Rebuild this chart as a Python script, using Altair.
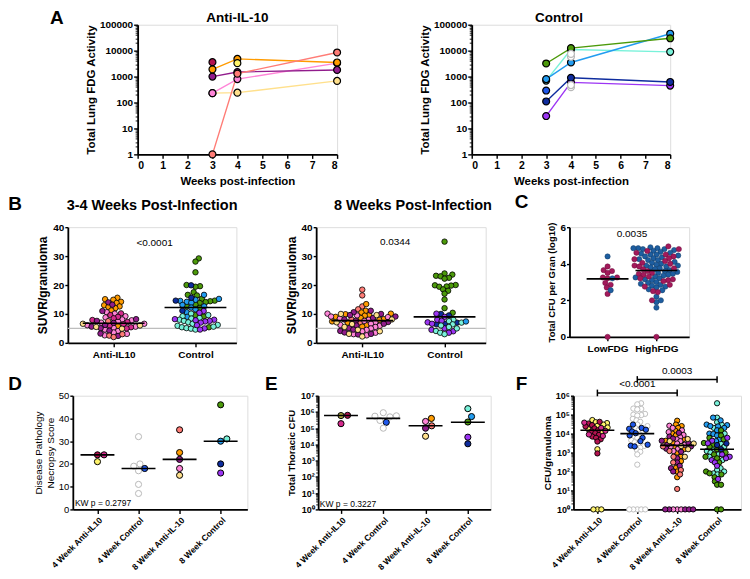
import altair as alt
import numpy as np
import pandas as pd

FONT = "Liberation Sans"

# ---------------- animal colours ----------------
FILL = {
    "orange": "#FF9B00", "lightyellow": "#FFE08C", "yellow": "#FFF36B", "olive": "#A9A23C",
    "pink": "#FF85D8", "magenta": "#D42A8C", "crimson": "#B3124F", "darkmagenta": "#911C8C",
    "salmon": "#FF7C76", "green": "#4C9A0A", "blue": "#229CF0", "aqua": "#79F2DA",
    "navy": "#0E2C9E", "violet": "#9C34F4", "royal": "#1E57EA", "gray": "#FFFFFF",
    "c_crimson": "#A3195B", "c_blue": "#1E5EA0",
}
STROKE = {"gray": "#B8B8B8", "c_crimson": "#6A0E3A", "c_blue": "#123B66"}

# ---------------- Panel A ----------------
A_WEEKS = [3, 4, 8]
A_ANTI_LINE_ANIMALS = ["lightyellow", "pink", "darkmagenta", "orange", "salmon"]
A_ANTI_LINE_VALUES = [[230, 240, 680], [230, 800, 3300], [1000, 1500, 1800],
                      [1900, 4800, 3500], [1, 1300, 8500]]
A_ANTI_DOT_ANIMALS = ["crimson", "yellow"]
A_ANTI_DOT_WEEKS = [3, 4]
A_ANTI_DOT_VALUES = [3600, 3300]

A_CTRL_LINE_ANIMALS = ["violet", "navy", "aqua", "blue", "green"]
A_CTRL_LINE_VALUES = [[30, 600, 450], [110, 900, 620], [700, 11000, 9000],
                      [800, 3500, 45000], [3200, 12500, 30000]]
A_CTRL_DOT_ANIMALS = ["royal", "gray", "gray", "gray", "gray"]
A_CTRL_DOT_WEEKS = [3, 4, 4, 4, 4]
A_CTRL_DOT_VALUES = [290, 5800, 7500, 390, 470]

# ---------------- Panel B ----------------
B_CATS = ["Anti-IL10", "Control"]
B34_ANTI = {
    "orange": [15.6, 15.1, 14.9, 14.2, 13.8, 13.0, 12.6, 12.4, 12.0, 11.2, 5.8],
    "pink": [10.6, 10.1, 9.2, 8.8, 8.1, 7.8, 7.4, 7.0, 6.6, 6.1, 5.6, 5.2, 4.6, 4.1, 3.6, 3.1, 2.6],
    "magenta": [10.2, 9.6, 9.0, 8.5, 7.9, 7.2, 6.4, 6.0, 5.4, 5.0],
    "darkmagenta": [14.0, 13.2, 11.0, 8.2, 7.6, 6.9, 6.2, 5.6, 5.1, 4.2, 3.2, 2.4],
    "lightyellow": [6.6, 6.0, 5.5, 4.9],
    "salmon": [7.5, 3.0, 2.5, 2.0],
}
B34_CTRL = {
    "green": [29.2, 28.1, 24.4, 20.0, 19.6, 19.4, 17.5, 16.6, 16.4, 15.2, 14.6, 14.4, 14.1,
              13.8, 13.2, 12.6, 12.1, 9.6, 9.1, 5.4],
    "blue": [16.6, 15.2, 14.9, 14.5, 14.2, 13.9, 13.1, 12.6, 12.2, 11.6, 10.6, 9.0],
    "navy": [19.9, 15.6, 14.6, 11.1],
    "aqua": [10.1, 9.6, 9.2, 8.6, 8.4, 8.0, 7.6, 7.1, 6.6, 6.2, 5.9, 5.6, 5.4, 5.1, 4.9, 4.6],
    "violet": [11.0, 10.4, 8.2, 8.0, 7.8, 7.6, 7.4, 7.0, 6.1, 5.0, 4.6],
}
B34_MEDIANS = [6.8, 12.2]
B8_ANTI = {
    "salmon": [18.4, 16.4, 12.6, 11.6, 8.1, 7.0],
    "orange": [13.4, 11.1, 10.5, 10.1, 9.9, 9.6, 9.4, 9.0, 8.6, 8.2, 7.9, 7.4, 7.0, 6.1, 5.6],
    "pink": [10.1, 9.5, 9.1, 8.9, 8.4, 8.0, 7.6, 7.1, 6.6, 6.2, 5.9, 5.5, 5.0, 4.5, 4.0, 3.5, 3.0, 2.6],
    "darkmagenta": [11.1, 10.6, 10.0, 9.6, 9.1, 8.6, 8.1, 7.6, 7.2, 6.6, 6.0, 5.1, 4.6, 4.1, 3.6, 3.1, 2.9],
    "lightyellow": [10.0, 9.6, 8.1, 7.1, 6.5, 5.5, 4.5, 4.0, 3.1, 2.2],
}
B8_CTRL = {
    "green": [35.0, 24.0, 23.6, 23.2, 23.0, 22.5, 22.2, 20.0, 19.9, 19.8, 19.5, 19.4, 18.5, 18.0,
              17.0, 15.0, 12.0, 10.4],
    "navy": [10.0, 9.5, 7.0, 6.6, 6.4],
    "violet": [10.1, 9.0, 8.0, 7.6, 7.1, 6.6, 5.0, 4.5, 4.0, 3.5],
    "aqua": [8.0, 7.5, 7.0, 6.4, 6.0, 5.5, 5.0, 4.1, 3.5, 3.0],
    "blue": [7.4],
}
B8_MEDIANS = [7.7, 9.0]

# ---------------- Panel C ----------------
C_CATS = ["LowFDG", "HighFDG"]
C_LOW = {
    "c_crimson": [3.85, 3.65, 3.6, 3.5, 3.25, 3.25, 3.2, 2.95, 2.85, 2.7, 2.35, 0.0],
    "c_blue": [4.4, 3.2, 2.55],
}
C_HIGH = {
    "c_blue": [4.9, 4.85, 4.85, 4.85, 4.8, 4.8, 4.75, 4.7, 4.65, 4.6, 4.55, 4.5, 4.5, 4.45, 4.4,
               4.35, 4.3, 4.25, 4.2, 4.2, 4.1, 4.05, 4.0, 3.95, 3.9, 3.9, 3.85, 3.8, 3.75, 3.7,
               3.65, 3.6, 3.55, 3.5, 3.45, 3.4, 3.35, 3.3, 3.25, 3.2, 3.15, 3.1, 3.0, 2.95, 2.9,
               2.85, 2.8, 2.75, 2.7, 2.6, 2.55, 2.2, 2.0, 1.9, 1.6],
    "c_crimson": [4.95, 4.8, 4.7, 4.6, 4.5, 4.4, 4.3, 4.25, 4.15, 4.05, 4.0, 3.9, 3.85, 3.75, 3.7,
                  3.6, 3.5, 3.45, 3.4, 3.3, 3.2, 3.15, 3.1, 3.05, 2.85, 2.75, 2.5, 2.45, 2.0, 0.0],
}
C_MEDIANS = [3.17, 3.63]

# ---------------- Panels D, E, F ----------------
DEF_CATS = ["4 Week Anti-IL10", "4 Week Control", "8 Week Anti-IL-10", "8 Week Control"]
D_GROUPS = [
    {"crimson": [24], "magenta": [24], "yellow": [21]},
    {"gray": [32, 20, 19, 17, 11, 7], "royal": [18]},
    {"salmon": [35], "orange": [25], "darkmagenta": [22], "pink": [18], "lightyellow": [15]},
    {"green": [46], "blue": [30], "aqua": [31], "navy": [20], "violet": [16]},
]
D_MEDIANS = [24, 18, 22, 30]
E_GROUPS = [
    {"olive": [600000], "crimson": [620000], "magenta": [190000]},
    {"royal": [230000], "gray": [550000, 580000, 100000, 300000, 500000, 900000]},
    {"pink": [260000], "orange": [400000], "salmon": [140000], "darkmagenta": [100000],
     "lightyellow": [32000]},
    {"aqua": [1600000], "blue": [520000], "green": [240000], "violet": [28000], "navy": [11000]},
]
E_MEDIANS = [600000, 400000, 140000, 230000]
F_GROUPS = [
    {"yellow": [52000, 40000, 36000, 30000, 26000, 21000, 17000, 12000, 1500, 1, 1, 1],
     "crimson": [42000, 34000, 28000, 24000, 19000, 15000, 13000, 10500, 8500, 7000, 6000, 5000,
                 3800, 900],
     "magenta": [38000, 20000, 14000, 9000, 7500]},
    {"gray": [400000, 350000, 210000, 200000, 190000, 110000, 100000, 95000, 90000, 60000, 50000,
              42000, 30000, 25000, 20000, 15000, 12000, 9000, 7000, 6000, 4500, 3500, 2700, 2200,
              1800, 1400, 1100, 800, 230, 1, 1, 1, 1, 1],
     "royal": [30000, 20000, 18000, 16000, 13000, 10500, 8000, 6000, 4000, 2600, 2300, 2100]},
    {"orange": [48000, 30000, 25000, 20000, 14000, 10000, 8000, 5200, 4200, 3200, 2000, 1500, 1000,
                600, 350, 160, 100, 50],
     "pink": [26000, 20000, 15000, 12000, 8500, 6500, 5000, 4000, 3000, 2600, 2000, 1600, 1200,
              1, 1, 1],
     "darkmagenta": [11000, 7000, 5500, 4200, 3200, 2600, 2100, 1600, 1100, 500, 300, 200, 150,
                     100, 1, 1, 1, 1, 1],
     "salmon": [2100, 1200, 600, 300, 120, 70, 12],
     "lightyellow": [5200, 4000, 3000, 2200, 1500, 600]},
    {"aqua": [400000, 70000, 40000, 30000, 20000, 10000, 3000, 2000, 1600, 1200, 1000, 800, 600,
              400, 150, 120, 100, 80, 70],
     "blue": [70000, 50000, 30000, 28000, 25000, 24000, 20000, 15000, 10000, 9500, 8000, 5000, 4000],
     "green": [15000, 8000, 6000, 5000, 3200, 2600, 2000, 1500, 1000, 800, 600, 500, 300, 100, 80,
               70, 50, 30, 20, 20, 1, 1],
     "violet": [6000, 4200, 3100, 800, 600, 500, 400, 300, 200, 40],
     "navy": [3000, 2500, 1500]},
]
F_MEDIANS = [15000, 10000, 2400, 1500]
F_BRACKETS = [(1, 3, "<0.0001"), (2, 4, "0.0003")]
F_BRACKET_Y = [1.4e6, 7.2e6]

SUPERS = "['\u2070','\u00b9','\u00b2','\u00b3','\u2074','\u2075','\u2076','\u2077']"
LOG_LABEL = "'10' + " + SUPERS + "[round(log(datum.value)/LN10)]"


def base_axis(**kw):
    d = dict(domainColor="black", domainWidth=1.8, tickColor="black", tickWidth=1.4, tickSize=4,
             labelColor="black", titleColor="black", labelFont=FONT, titleFont=FONT,
             labelFontWeight="bold", titleFontWeight="bold", labelFontSize=10, titleFontSize=11,
             grid=False, labelPadding=2, titlePadding=4)
    d.update(kw)
    return alt.Axis(**d)


def minor_axis(values):
    return alt.Axis(orient="left", values=values, labels=False, domain=False, tickSize=2.5,
                    tickWidth=0.9, tickColor="black", title="", grid=False)


def log_minor(lo_exp, hi_exp):
    return [k * 10 ** e for e in range(lo_exp, hi_exp) for k in range(2, 10)]


def swarm(ypx, d):
    order = np.argsort(ypx, kind="stable")
    xs = np.zeros(len(ypx))
    px_list, py_list = [], []
    for i in order:
        y = ypx[i]
        cands = [0.0]
        for px, py in zip(px_list, py_list):
            dy = abs(py - y)
            if dy < d:
                dx = (d * d - dy * dy) ** 0.5
                cands.extend([px + dx, px - dx])
        cands.sort(key=abs)
        for c in cands:
            if all((c - px) ** 2 + (y - py) ** 2 >= d * d - 1e-6 for px, py in zip(px_list, py_list)):
                xs[i] = c
                break
        px_list.append(xs[i])
        py_list.append(y)
    return xs


def point_row(x, y, animal):
    return dict(x=x, y=y, fill=FILL[animal], stroke=STROKE.get(animal, "#000000"))


def letter_layer(letter, dx, dy):
    return alt.Chart(pd.DataFrame({"t": [letter]})).mark_text(
        font=FONT, fontSize=19, fontWeight="bold", align="center", baseline="middle", color="black"
    ).encode(x=alt.value(dx), y=alt.value(dy), text="t:N")


def blank_letter(letter, dx, dy, h):
    return letter_layer(letter, dx, dy).properties(
        width=1, height=h, view=alt.ViewBackground(stroke="transparent", strokeWidth=0))


def panel_title(text, size, offset, dx=0):
    return alt.TitleParams(text, font=FONT, fontSize=size, fontWeight="bold", offset=offset,
                           dx=dx, color="black", frame="group")


def panel_a(line_animals, line_values, dot_animals, dot_weeks, dot_values, title, title_dx, w, h):
    line_rows, dot_rows = [], []
    for i, (a, vals) in enumerate(zip(line_animals, line_values)):
        for wk, v in zip(A_WEEKS, vals):
            line_rows.append(dict(id=i, x=wk, y=v, col=FILL[a]))
            dot_rows.append(point_row(wk, v, a))
    for a, wk, v in zip(dot_animals, dot_weeks, dot_values):
        dot_rows.append(point_row(wk, v, a))
    dots_df = pd.DataFrame(dot_rows)
    xs = alt.Scale(domain=[0, 8], nice=False, zero=False)
    ys = alt.Scale(type="log", domain=[1, 100000], nice=False)
    X = alt.X("x:Q", scale=xs, axis=base_axis(values=list(range(9)), title="Weeks post-infection",
                                             titleFontSize=11.5, labelFontSize=10.5, titlePadding=5))
    Y = alt.Y("y:Q", scale=ys, axis=base_axis(values=[1, 10, 100, 1000, 10000, 100000], format="d",
                                             title="Total Lung FDG Activity", titleFontSize=11.5,
                                             labelPadding=1, titlePadding=3))
    lines = alt.Chart(pd.DataFrame(line_rows)).mark_line(strokeWidth=1.4).encode(
        x=X, y=Y, detail="id:N", color=alt.Color("col:N", scale=None))
    dots = alt.Chart(dots_df).mark_point(filled=True, size=48, strokeWidth=1.2, opacity=1).encode(
        x=X, y=Y, fill=alt.Fill("fill:N", scale=None), stroke=alt.Stroke("stroke:N", scale=None))
    minor = alt.Chart(dots_df).mark_point(opacity=0).encode(
        x=X, y=alt.Y("y:Q", scale=ys, axis=minor_axis(log_minor(0, 5))))
    return alt.layer(alt.layer(lines, dots), minor).resolve_axis(y="independent").properties(
        width=w, height=h, title=panel_title(title, 13.5, -5, title_dx))


def swarm_df(groups, ylo, yhi, ylog, h, w, xlo, xhi, diam):
    rows = []
    for xc, grp in enumerate(groups, start=1):
        items = [(v, a) for a, vs in grp.items() for v in vs]
        vals = np.array([v for v, _ in items], float)
        if ylog:
            t = (np.log10(vals) - np.log10(ylo)) / (np.log10(yhi) - np.log10(ylo))
        else:
            t = (vals - ylo) / (yhi - ylo)
        offs = swarm(t * h, diam)
        for (v, a), o in zip(items, offs):
            rows.append(point_row(xc + o * (xhi - xlo) / w, v, a))
    return pd.DataFrame(rows)


def swarm_panel(groups, cats, xdom, ydom, ylog, w, h, size, diam, medians, med_half,
                yaxis_kw, xaxis_kw, stroke_w=0.8, minor_vals=None, extra=None, title=None,
                letter=None, letter_pos=(0, 0)):
    df = swarm_df(groups, ydom[0], ydom[1], ylog, h, w, xdom[0], xdom[1], diam)
    xs = alt.Scale(domain=xdom, nice=False, zero=False)
    ys = alt.Scale(type="log", domain=ydom, nice=False) if ylog else \
        alt.Scale(domain=ydom, nice=False, zero=False)
    label_arr = "[''," + ",".join("'%s'" % c for c in cats) + "]"
    X = alt.X("x:Q", scale=xs, axis=base_axis(values=list(range(1, len(cats) + 1)),
                                             labelExpr=label_arr + "[round(datum.value)]",
                                             labelOverlap=False, title=None, **xaxis_kw))
    Y = alt.Y("y:Q", scale=ys, axis=base_axis(**yaxis_kw))
    X2 = alt.X2("x2:Q")
    step = (xdom[1] - xdom[0]) / w
    med_df = pd.DataFrame({"x": [i + 1 - med_half * step for i in range(len(medians))],
                           "x2": [i + 1 + med_half * step for i in range(len(medians))],
                           "y": medians})
    layers = []
    if extra:
        layers += [e(X, X2, Y) for e in extra]
    layers.append(alt.Chart(df).mark_point(filled=True, size=size, strokeWidth=stroke_w, opacity=1)
                  .encode(x=X, y=Y, fill=alt.Fill("fill:N", scale=None),
                          stroke=alt.Stroke("stroke:N", scale=None)))
    layers.append(alt.Chart(med_df).mark_rule(color="black", strokeWidth=1.6)
                  .encode(x=X, x2=X2, y=Y))
    if letter:
        layers.append(letter_layer(letter, letter_pos[0], letter_pos[1]))
    chart = alt.layer(*layers)
    if minor_vals:
        minor = alt.Chart(df).mark_point(opacity=0).encode(
            x=X, y=alt.Y("y:Q", scale=ys, axis=minor_axis(minor_vals)))
        chart = alt.layer(chart, minor).resolve_axis(y="independent")
    props = dict(width=w, height=h)
    if title is not None:
        props["title"] = title
    return chart.properties(**props)


def text_layer(x, y, text, size=10, align="center", baseline="middle", weight="normal"):
    def make(X, X2, Y):
        return alt.Chart(pd.DataFrame({"x": [x], "y": [y], "t": [text]})).mark_text(
            font=FONT, fontSize=size, align=align, baseline=baseline, fontWeight=weight,
            color="black").encode(x=X, y=Y, text="t:N")
    return make


def hline_layer(yv, color="#BDBDBD"):
    def make(X, X2, Y):
        return alt.Chart(pd.DataFrame({"y": [yv]})).mark_rule(color=color, strokeWidth=1.3) \
            .encode(y=Y)
    return make


def bracket_layers():
    def make_h(X, X2, Y):
        df = pd.DataFrame({"x": [b[0] for b in F_BRACKETS], "x2": [b[1] for b in F_BRACKETS],
                           "y": F_BRACKET_Y})
        return alt.Chart(df).mark_rule(color="black", strokeWidth=1.5).encode(x=X, x2=X2, y=Y)

    def make_v(X, X2, Y):
        xs_, y1, y2 = [], [], []
        for (a, b, _), yv in zip(F_BRACKETS, F_BRACKET_Y):
            for xx in (a, b):
                xs_.append(xx)
                y1.append(yv / 1.5)
                y2.append(yv * 1.5)
        df = pd.DataFrame({"x": xs_, "y": y1, "y2": y2})
        return alt.Chart(df).mark_rule(color="black", strokeWidth=1.5).encode(
            x=X, y=Y, y2=alt.Y2("y2:Q"))

    def make_t(X, X2, Y):
        df = pd.DataFrame({"x": [(a + b) / 2 for a, b, _ in F_BRACKETS],
                           "y": [yv * 1.6 for yv in F_BRACKET_Y],
                           "t": [t for _, _, t in F_BRACKETS]})
        return alt.Chart(df).mark_text(font=FONT, fontSize=10, baseline="bottom", color="black") \
            .encode(x=X, y=Y, text="t:N")
    return [make_h, make_v, make_t]


# ---------------- build panels ----------------
HA, HB, HC, HD = 130, 116, 110, 114
blank_a = blank_letter("A", 36, -7, HA)
blank_b = blank_letter("B", -6, -23, HB)
blank_d = blank_letter("D", -6, -12, HD)

a_left = panel_a(A_ANTI_LINE_ANIMALS, A_ANTI_LINE_VALUES, A_ANTI_DOT_ANIMALS, A_ANTI_DOT_WEEKS,
                 A_ANTI_DOT_VALUES, "Anti-IL-10", 0, 200, HA)
a_right = panel_a(A_CTRL_LINE_ANIMALS, A_CTRL_LINE_VALUES, A_CTRL_DOT_ANIMALS, A_CTRL_DOT_WEEKS,
                  A_CTRL_DOT_VALUES, "Control", -12, 199, HA)

b_yaxis = dict(values=[0, 10, 20, 30, 40], title="SUVR/granuloma", titleFontSize=12,
               labelFontSize=10, tickSize=3, labelPadding=1, titlePadding=3)
b_xaxis = dict(labelFontSize=10, labelPadding=3)
b_left = swarm_panel([B34_ANTI, B34_CTRL], B_CATS, [0.44, 2.5], [0, 40], False, 169, HB, 30, 4.6,
                     B34_MEDIANS, 31, b_yaxis, b_xaxis,
                     extra=[hline_layer(5), text_layer(1.5, 34.5, "<0.0001")],
                     title=panel_title("3-4 Weeks Post-Infection", 14.5, 9))
b_right = swarm_panel([B8_ANTI, B8_CTRL], B_CATS, [0.44, 2.5], [0, 40], False, 170, HB, 30, 4.6,
                      B8_MEDIANS, 31, b_yaxis, b_xaxis,
                      extra=[hline_layer(5), text_layer(1.4, 35, "0.0344")],
                      title=panel_title("8 Weeks Post-Infection", 14.5, 9, 12))
c_panel = swarm_panel([C_LOW, C_HIGH], C_CATS, [0.22, 2.67], [0, 6], False, 120, HC, 28, 4.8,
                      C_MEDIANS, 21,
                      dict(values=[0, 2, 4, 6], title="Total CFU per Gran (log10)", titleFontSize=9.5,
                           labelFontSize=10, tickSize=3, labelPadding=1, titlePadding=3),
                      dict(labelFontSize=10, labelPadding=3), stroke_w=0.5,
                      extra=[text_layer(1.5, 5.65, "0.0035")], letter="C", letter_pos=(-48, -25))

def_xaxis = dict(labelAngle=-45, labelFontSize=8.5, labelPadding=2)
d_panel = swarm_panel(D_GROUPS, DEF_CATS, [0.4, 4.65], [0, 50], False, 175, HD, 38, 6.6,
                      D_MEDIANS, 17,
                      dict(values=[0, 10, 20, 30, 40, 50],
                           title=["Disease Pathology", "Necropsy Score"], titleFontSize=10,
                           titleFontWeight="normal", labelFontWeight="normal", labelFontSize=9.5,
                           tickSize=3, labelPadding=1, titlePadding=3),
                      def_xaxis, stroke_w=1.0,
                      extra=[text_layer(0.45, 2.8, "KW p = 0.2797", size=8.5, align="left")])
e_panel = swarm_panel(E_GROUPS, DEF_CATS, [0.46, 4.54], [1, 1e7], True, 173, HD, 38, 6.6,
                      E_MEDIANS, 17,
                      dict(values=[10 ** k for k in range(8)], labelExpr=LOG_LABEL,
                           title="Total Thoracic CFU", titleFontSize=9.5, labelFontSize=9,
                           tickSize=3, labelPadding=1, titlePadding=3),
                      def_xaxis, stroke_w=1.0, minor_vals=log_minor(0, 7),
                      extra=[text_layer(0.5, 2.3, "KW p = 0.3227", size=8.5, align="left")],
                      letter="E", letter_pos=(-47, -12))
f_panel = swarm_panel(F_GROUPS, DEF_CATS, [0.4, 4.6], [1, 1e6], True, 168, HD, 28, 4.0,
                      F_MEDIANS, 17,
                      dict(values=[10 ** k for k in range(7)], labelExpr=LOG_LABEL,
                           title="CFU/granuloma", titleFontSize=10, labelFontSize=9,
                           tickSize=3, labelPadding=1, titlePadding=3),
                      def_xaxis, stroke_w=0.9, minor_vals=log_minor(0, 6),
                      extra=bracket_layers(), letter="F", letter_pos=(-52, -12))

row1 = alt.hconcat(alt.hconcat(blank_a, a_left, spacing=21), a_right, spacing=75)
row2 = alt.hconcat(alt.hconcat(alt.hconcat(blank_b, b_left, spacing=14), b_right, spacing=46),
                   c_panel, spacing=21)
row3 = alt.hconcat(alt.hconcat(alt.hconcat(blank_d, d_panel, spacing=10), e_panel, spacing=16),
                   f_panel, spacing=23)

chart = alt.vconcat(row1, row2, row3, spacing=4).properties(
    padding={"left": 0, "top": 0, "right": 0, "bottom": 0}
).configure_view(stroke=None).configure(font=FONT)

chart.save("out.html", embed_options={"renderer": "svg", "actions": False})
